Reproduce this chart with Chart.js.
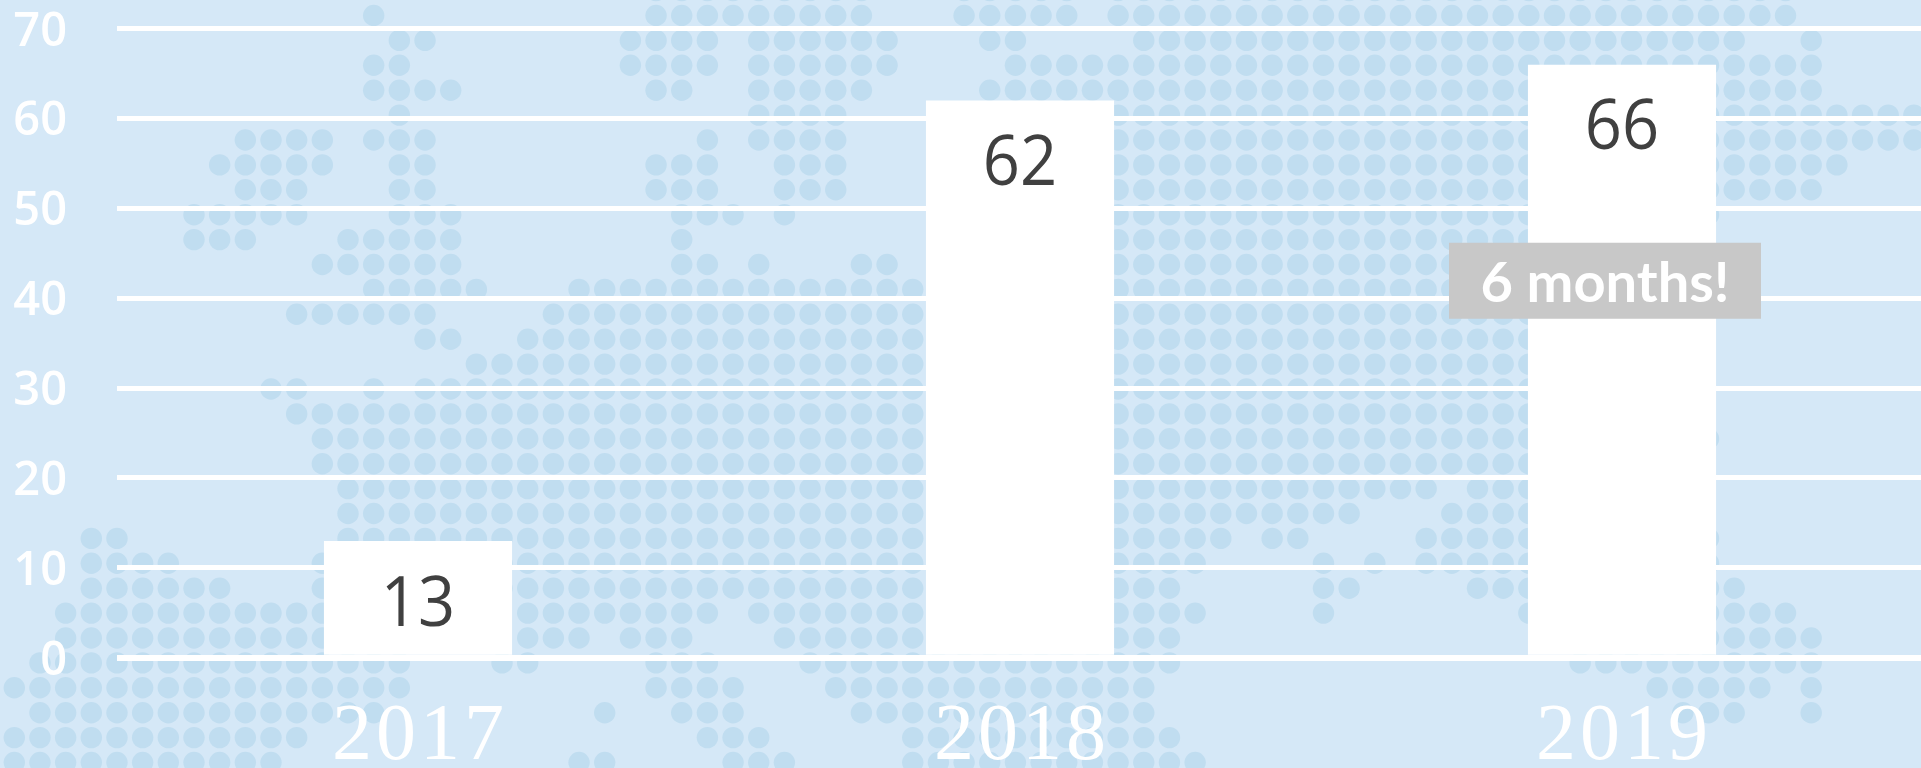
<!DOCTYPE html>
<html>
<head>
<meta charset="utf-8">
<style>
html,body{margin:0;padding:0;background:#d5e8f7;overflow:hidden;width:1921px;height:768px}
canvas{display:block}
</style>
<script src="https://cdn.jsdelivr.net/npm/chart.js@4"></script>
</head>
<body>
<canvas id="c" width="1923" height="768"></canvas>
<script>
const categories = ["2017", "2018", "2019"];
const values = [13, 62, 66];
const yMax = 70;
const yStep = 10;
const calloutText = "6 months!";

// decorative dot-map background: occupied columns of each row of the dot grid
const mapRows = [
"25-33,37-41,43-69",
"14,25-33,37-41,43-69",
"15,16,24-27,29-34,38,39,44-67,70",
"14,15,24-27,29-34,39-70",
"14-17,25,26,29-33,38-70",
"15,29-32,38-74",
"9-12,14-16,27,29-32,38-74",
"8-12,15,16,25-27,30-32,38-71",
"9-11,15,16,25-27,30-32,38-70",
"7-11,15-17,26-28,30,38-66",
"7-9,13-17,26,38-65",
"12-17,26,27,29,33,34,38-65",
"14-18,22-35,38-65",
"11-16,21-35,38-65",
"16,17,20-35,38-65",
"18-35,38-65",
"10,11,14,16-35,38-65",
"11-35,38-65",
"12-35,38-66",
"12-35,38-65",
"13-35,38-55,57-65",
"13-35,38-52,56-65",
"3,4,13-35,38-47,49,50,55-66",
"3-6,12-35,38-46,51,53,55-66",
"3-8,12-35,38-45,51,52,57-67",
"2-12,20-27,29-35,38-46,51,59-69",
"2-12,20-22,24-26,30-35,38-45,60-70",
"1-15,19,20,25-27,31-45,61-70",
"0-15,25-28,32-44,64-68,70",
"1-14,23,26-28,33-44,65-67,70",
"0-11,27-29,35-45",
"0-10,22,23,28-30,35-46"
];

const dotMap = {
  id: "dotMap",
  beforeDraw(chart) {
    const ctx = chart.ctx;
    ctx.save();
    ctx.fillStyle = "#d5e8f7";
    ctx.fillRect(0, 0, chart.width, chart.height);
    ctx.fillStyle = "#c0ddf0";
    mapRows.forEach((row, r) => {
      const cy = -9.4 + 24.9 * r;
      row.split(",").forEach(part => {
        const [a, b] = part.split("-").map(Number);
        for (let c = a; c <= (b === undefined ? a : b); c++) {
          ctx.beginPath();
          ctx.arc(14.3 + 25.67 * c, cy, 10.7, 0, Math.PI * 2);
          ctx.fill();
        }
      });
    });
    ctx.restore();
  }
};

const barLabels = {
  id: "barLabels",
  afterDatasetsDraw(chart) {
    const ctx = chart.ctx;
    const bars = chart.getDatasetMeta(0).data;
    ctx.font = '400 65px "Open Sans"';
    ctx.fillStyle = "#404040";
    ctx.textAlign = "center";
    ctx.textBaseline = "middle";
    bars.forEach((bar, i) => {
      ctx.save();
      ctx.translate(bar.x, bar.y + 65);
      ctx.scale(1, 1.06);
      ctx.fillText(String(values[i]), 0, 0);
      ctx.restore();
    });
  }
};

const callout = {
  id: "callout",
  afterDraw(chart) {
    const ctx = chart.ctx;
    const bar = chart.getDatasetMeta(0).data[2];
    const cx = bar.x - 17, cy = chart.scales.y.getPixelForValue(41.95);
    ctx.save();
    ctx.fillStyle = "#c8c8c8";
    ctx.fillRect(cx - 156, cy - 38, 312, 76);
    ctx.font = '700 56px Lato';
    ctx.fillStyle = "#ffffff";
    ctx.textAlign = "center";
    ctx.textBaseline = "middle";
    ctx.fillText(calloutText, cx, cy + 3);
    ctx.restore();
  }
};

// nudges the native tick labels: a little tracking on the years, a small drop on the y labels
const tickNudge = {
  id: "tickNudge",
  afterLayout(chart) {
    [["x", 2, 0, "4px"], ["y", 0, 3.5, "0px"]].forEach(([id, dx, dy, spacing]) => {
      const s = chart.scales[id];
      if (s.nudged) return;
      const draw = s.drawLabels;
      s.drawLabels = function (area) {
        const ctx = chart.ctx;
        ctx.save();
        ctx.translate(dx, dy);
        ctx.letterSpacing = spacing;
        draw.call(this, area);
        ctx.restore();
      };
      s.nudged = true;
    });
  }
};

new Chart(document.getElementById("c"), {
  type: "bar",
  data: {
    labels: categories,
    datasets: [{
      data: values,
      backgroundColor: "#ffffff",
      borderWidth: 0,
      barPercentage: 0.3125,
      categoryPercentage: 1
    }]
  },
  plugins: [dotMap, tickNudge, barLabels, callout],
  options: {
    responsive: false,
    animation: false,
    events: [],
    layout: { padding: { top: 28.7, left: 0, right: 0, bottom: 0 } },
    plugins: { legend: { display: false }, tooltip: { enabled: false }, title: { display: false } },
    scales: {
      x: {
        grid: { display: false, drawTicks: false },
        border: { display: false },
        afterFit(s) { s.height = 110.3; s.paddingLeft = 0; s.paddingRight = 0; },
        ticks: {
          color: "#ffffff",
          padding: 32,
          maxRotation: 0,
          autoSkip: false,
          font: { family: '"Liberation Serif"', size: 80 }
        }
      },
      y: {
        min: 0,
        max: yMax,
        afterFit(s) { s.width = 117; s.paddingTop = 0; s.paddingBottom = 0; },
        border: { display: false },
        grid: {
          color: "#ffffff",
          drawTicks: false,
          lineWidth: c => (c.tick && c.tick.value === 0 ? 6 : 5)
        },
        ticks: {
          stepSize: yStep,
          color: "#ffffff",
          padding: 50,
          font: { family: '"Open Sans"', size: 47, weight: "600" }
        }
      }
    }
  }
});
</script>
</body>
</html>
